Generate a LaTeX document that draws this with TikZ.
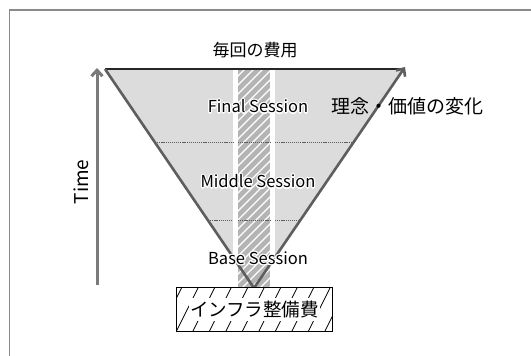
\documentclass[tikz,border=0pt]{standalone}
\usepackage{fontspec}
\setmainfont{Noto Sans CJK JP}
\usepackage[copies]{contour}
\contourlength{1.1pt}
\contournumber{16}
\usetikzlibrary{arrows.meta}
\definecolor{framec}{HTML}{8A8A8A}
\definecolor{trifill}{HTML}{DCDCDC}
\definecolor{hatchbg}{HTML}{B4B4B4}
\definecolor{linec}{HTML}{5E5E5E}
\definecolor{timec}{HTML}{7A7A7A}
\tikzset{
  sidel/.style={draw=linec,line width=2.6pt},
  dotl/.style={draw=linec,line width=0.9pt,dash pattern=on 1.2pt off 0.9pt},
  lbl/.style={inner sep=0pt,font=\fontsize{16}{18}\selectfont},
  barb/.style={-{Straight Barb[length=6pt,width=11pt]}},
}
\begin{document}
\begin{tikzpicture}[x=1pt,y=-1pt]
\useasboundingbox (0,0) rectangle (531,356);
% frame
\draw[framec,line width=1.5pt] (9.5,356) -- (9.5,10) -- (531,10);
% coordinates
\coordinate (tl) at (105,69);
\coordinate (tre) at (403,69);
\coordinate (tr) at (405,67);
\coordinate (apex) at (254,288);
% gray fill
\begin{scope}
  \clip (0,0) rectangle (531,264);
  \fill[trifill] (tl) -- (tre) -- (apex) -- cycle;
  \fill[white] (233,69) rectangle (275,264);
\end{scope}
% hatched column
\begin{scope}
  \clip (238,69) rectangle (270,288);
  \fill[hatchbg] (238,69) rectangle (270,288);
  \foreach \k in {0,...,32} {
    \draw[white,line width=1.2pt] (228,59+\k*9) -- (280,7+\k*9);
  }
\end{scope}
% dotted lines
\draw[dotl] (155,142) -- (233,142);
\draw[dotl] (238,142) -- (270,142);
\draw[dotl] (275,142) -- (354,142);
\draw[dotl] (208,220) -- (233,220);
\draw[dotl] (238,220) -- (270,220);
\draw[dotl] (275,220) -- (300,220);
% triangle sides
\draw[black!85,line width=1.2pt] (tl) -- (tre);
\draw[sidel] (tl) -- (apex);
\draw[sidel,barb,line cap=round] (apex) -- (tr);
% time arrow
\coordinate (t0) at (97,285);
\coordinate (t1) at (97,68);
\draw[timec,line width=3pt,barb] (t0) -- (t1);
\node[lbl,font=\fontsize{19}{21}\selectfont,rotate=90] (time) at (81,182) {Time};
% labels
\node[lbl,font=\fontsize{17}{19}\selectfont] (cost) at (255,50) {毎回の費用};
\node[lbl,font=\fontsize{16.5}{19}\selectfont] (final) at (258,107) {\contour{white}{Final Session}};
\node[lbl,font=\fontsize{16.5}{19}\selectfont] (middle) at (258,182) {\contour{white}{Middle Session}};
\node[lbl,font=\fontsize{16.5}{19}\selectfont] (base) at (258,259) {\contour{white}{Base Session}};
\node[lbl,font=\fontsize{19}{21}\selectfont] (ideal) at (407,106) {理念・価値の変化};
% infrastructure box
\node[draw=none,minimum width=155pt,minimum height=43pt,inner sep=0pt] (infra) at (254.5,309.5) {};
\begin{scope}
  \clip (infra.south west) rectangle (infra.north east);
  \fill[white] (infra.south west) rectangle (infra.north east);
  \foreach \k in {0,...,12} {
    \draw[black,line width=0.8pt] (160+\k*16.5,331) -- (181.5+\k*16.5,288);
  }
\end{scope}
\draw[black,line width=1pt] (infra.south west) rectangle (infra.north east);
\node[lbl,fill=white,font=\fontsize{18.5}{21}\selectfont,inner xsep=1pt,inner ysep=3pt] (infratxt) at (infra.center) {インフラ整備費};
\end{tikzpicture}
\end{document}
